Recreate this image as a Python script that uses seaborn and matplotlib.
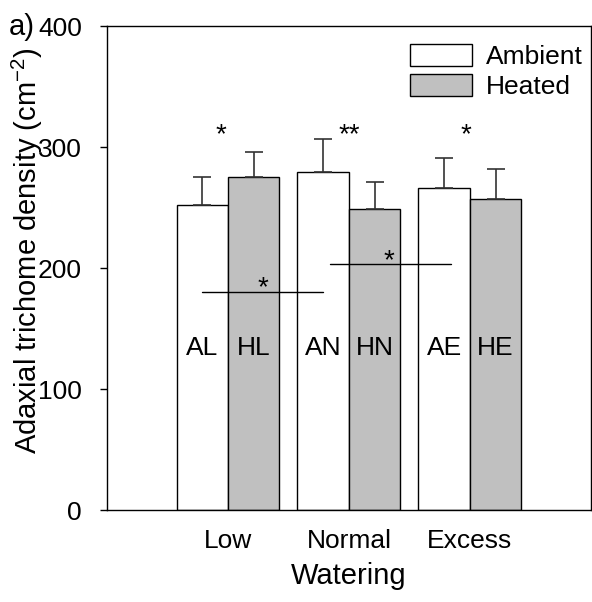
import matplotlib
matplotlib.use("Agg")
import matplotlib.pyplot as plt
import seaborn as sns
import pandas as pd
import numpy as np

watering = ["Low", "Normal", "Excess"]
treatments = ["Ambient", "Heated"]
ambient_mean = [252, 279, 266]
heated_mean = [275, 249, 257]
ambient_err = [23, 28, 25]
heated_err = [21, 22, 25]
bar_labels_ambient = ["AL", "AN", "AE"]
bar_labels_heated = ["HL", "HN", "HE"]
top_stars = ["*", "**", "*"]
yticks = [0, 100, 200, 300, 400]

df = pd.DataFrame({
    "Watering": watering * 2,
    "Treatment": ["Ambient"] * 3 + ["Heated"] * 3,
    "density": ambient_mean + heated_mean,
})
errs = ambient_err + heated_err
labels = bar_labels_ambient + bar_labels_heated

sns.set_style("ticks")
plt.rcParams["font.family"] = ["Liberation Sans", "DejaVu Sans"]
plt.rcParams["mathtext.fontset"] = "custom"
plt.rcParams["mathtext.rm"] = "Liberation Sans"
plt.rcParams["text.color"] = "black"
plt.rcParams["axes.labelcolor"] = "black"
plt.rcParams["xtick.color"] = "black"
plt.rcParams["ytick.color"] = "black"

fig = plt.figure(figsize=(5.92, 6.02), dpi=100)
ax = fig.add_axes([0.1807, 0.1528, 0.8173, 0.804])

sns.barplot(data=df, x="Watering", y="density", hue="Treatment", order=watering,
            hue_order=treatments, palette={"Ambient": "white", "Heated": "#c0c0c0"},
            edgecolor="black", linewidth=1.0, width=0.85, gap=0, errorbar=None, ax=ax)

bars = [p for p in ax.patches if p.get_height() > 0][:6]
centers = []
for p, e, lab in zip(bars, errs, labels):
    cx = p.get_x() + p.get_width() / 2
    centers.append(cx)
    h = p.get_height()
    ax.errorbar(cx, h, yerr=[[0], [e]], fmt="none", ecolor="#333333",
                elinewidth=1.2, capsize=6.5, capthick=1.2)
    ax.text(cx, 134, lab, ha="center", va="center", fontsize=19, color="black")

# group significance stars
star_x = [-0.06, 1.0, 1.97]
for x, s in zip(star_x, top_stars):
    ax.text(x, 310, s, ha="center", va="center", fontsize=20, color="black")

# between-group comparison lines
ax.plot([centers[0], centers[1]], [180, 180], color="black", lw=1)
ax.text((centers[0] + centers[1]) / 2, 183, "*", ha="center", va="center", fontsize=20)
ax.plot([0.84, 1.84], [203, 203], color="black", lw=1)
ax.text(1.33, 206, "*", ha="center", va="center", fontsize=20)

ax.set_xlim(-1, 3)
ax.set_ylim(0, 400)
ax.set_yticks(yticks)
ax.tick_params(axis="y", labelsize=19, length=5, width=1, direction="out", pad=13)
ax.tick_params(axis="x", labelsize=19, length=0, pad=14)
ax.set_xlabel("Watering", fontsize=21, labelpad=6)
ax.set_ylabel(r"Adaxial trichome density (cm$^{\mathrm{-2}}$)", fontsize=21)
ax.yaxis.set_label_coords(-0.128, 0.535)
for sp in ax.spines.values():
    sp.set_visible(True)
    sp.set_linewidth(1.0)
    sp.set_color("black")

leg = ax.legend(loc="upper left", bbox_to_anchor=(0.604, 0.985), frameon=False,
                fontsize=19, handlelength=2.35, handleheight=0.9, handletextpad=0.55,
                labelspacing=0.2, borderaxespad=0)
fig.text(0.015, 0.955, "a)", fontsize=21, ha="left", va="center")

fig.savefig("out.png", dpi=100)
